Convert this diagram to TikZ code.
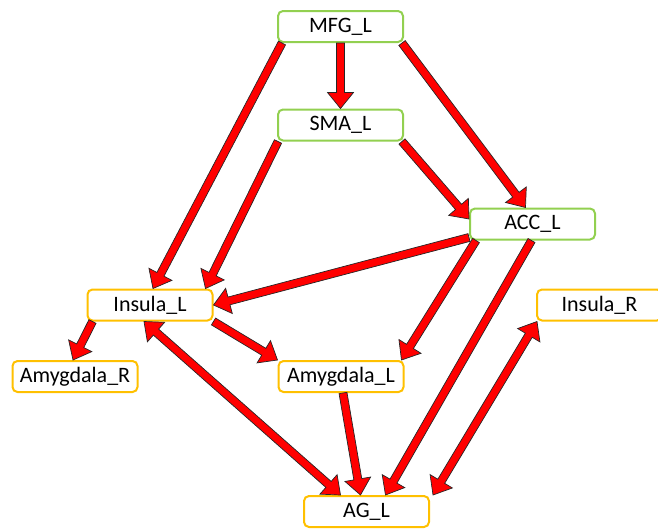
\documentclass[tikz,border=0pt]{standalone}
\usepackage{fontspec}
\setmainfont{Carlito}
\usetikzlibrary{calc}

\definecolor{lgreen}{HTML}{92D050}
\definecolor{lorange}{HTML}{FFC000}
\definecolor{arrowred}{HTML}{FF0000}

% dimensions of the block arrows
\def\shafthalf{4pt}
\def\headhalf{13pt}
\def\headlen{16pt}

\tikzset{
  region/.style={draw, rounded corners=5pt, line width=2pt, fill=white,
    minimum width=125pt, minimum height=31pt, inner sep=0pt,
    font=\fontsize{22}{25}\selectfont},
  frontal/.style={region, draw=lgreen},
  limbic/.style={region, draw=lorange},
  fatarrow/.style={fill=arrowred, draw=black!85, line width=0.7pt, line join=miter}
}

% block arrow with one head, from #1 to #2
\newcommand\onearrow[2]{%
  \filldraw[fatarrow] let \p1=(#1), \p2=(#2), \n1={atan2(\y2-\y1,\x2-\x1)} in
    ($(\p1)+(\n1+90:\shafthalf)$) --
    ($(\p2)+(\n1+180:\headlen)+(\n1+90:\shafthalf)$) --
    ($(\p2)+(\n1+180:\headlen)+(\n1+90:\headhalf)$) --
    (\p2) --
    ($(\p2)+(\n1+180:\headlen)+(\n1-90:\headhalf)$) --
    ($(\p2)+(\n1+180:\headlen)+(\n1-90:\shafthalf)$) --
    ($(\p1)+(\n1-90:\shafthalf)$) -- cycle;}

% block arrow with heads at both ends
\newcommand\twoarrow[2]{%
  \filldraw[fatarrow] let \p1=(#1), \p2=(#2), \n1={atan2(\y2-\y1,\x2-\x1)} in
    (\p1) --
    ($(\p1)+(\n1:\headlen)+(\n1+90:\headhalf)$) --
    ($(\p1)+(\n1:\headlen)+(\n1+90:\shafthalf)$) --
    ($(\p2)+(\n1+180:\headlen)+(\n1+90:\shafthalf)$) --
    ($(\p2)+(\n1+180:\headlen)+(\n1+90:\headhalf)$) --
    (\p2) --
    ($(\p2)+(\n1+180:\headlen)+(\n1-90:\headhalf)$) --
    ($(\p2)+(\n1+180:\headlen)+(\n1-90:\shafthalf)$) --
    ($(\p1)+(\n1:\headlen)+(\n1-90:\shafthalf)$) --
    ($(\p1)+(\n1:\headlen)+(\n1-90:\headhalf)$) -- cycle;}

\begin{document}
\begin{tikzpicture}[x=1pt, y=-1pt]
  \useasboundingbox (0,0) rectangle (658,530);
  \clip (0,0) rectangle (658,530);

  % regions
  \node[frontal] (mfg)  at (340.5,26.5)  {MFG\_L};
  \node[frontal] (sma)  at (340.5,125)   {SMA\_L};
  \node[frontal] (acc)  at (532.5,224)   {ACC\_L};
  \node[limbic]  (insl) at (150,305)     {Insula\_L};
  \node[limbic]  (insr) at (599.5,305)   {Insula\_R};
  \node[limbic]  (amyr) at (75,376.5)    {Amygdala\_R};
  \node[limbic]  (amyl) at (341,376.5)   {Amygdala\_L};
  \node[limbic]  (ag)   at (366.5,511.5) {AG\_L};

  % connections
  \onearrow{mfg.south}{sma.north}
  \onearrow{$(mfg.south west)+(5,0)$}{$(insl.north)+(3,0)$}
  \onearrow{$(mfg.south east)+(-2,0)$}{$(acc.north)+(-7,0)$}
  \onearrow{$(sma.south west)+(1,0)$}{$(insl.north east)+(-8,0)$}
  \onearrow{$(sma.south east)+(-2,0)$}{$(acc.west)+(0,-5)$}
  \onearrow{$(acc.south west)+(0,-3)$}{insl.east}
  \onearrow{$(acc.south west)+(7,0)$}{$(amyl.north east)+(-3,0)$}
  \onearrow{$(acc.south)+(-1,0)$}{$(ag.north)+(19,0)$}
  \onearrow{$(insl.south west)+(6,0)$}{$(amyr.north)+(-2,0)$}
  \onearrow{insl.south east}{amyl.north west}
  \twoarrow{$(insl.south)+(-6,0)$}{$(ag.north)+(-26,0)$}
  \onearrow{$(amyl.south)+(2,0)$}{$(ag.north)+(-6,0)$}
  \twoarrow{$(insr.south west)+(1,0)$}{$(ag.north east)+(3,0)$}
\end{tikzpicture}
\end{document}
